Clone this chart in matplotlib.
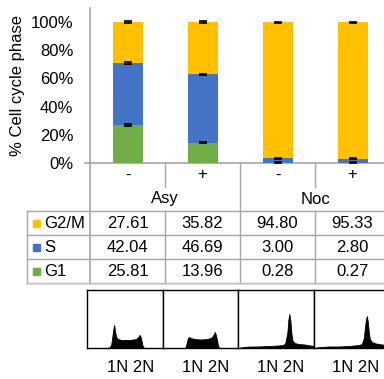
import numpy as np
import matplotlib
matplotlib.use("Agg")
import matplotlib.pyplot as plt
from matplotlib.patches import Rectangle

plt.rcParams["font.family"] = ["Liberation Sans", "DejaVu Sans"]

# ───────── data ─────────
treatments = ["-", "+", "-", "+"]
groups = ["Asy", "Noc"]
phases = ["G2/M", "S", "G1"]          # table order (top to bottom)
g2m = [27.61, 35.82, 94.80, 95.33]
s_phase = [42.04, 46.69, 3.00, 2.80]
g1 = [25.81, 13.96, 0.28, 0.27]
# error bars (% of cell cycle, estimated)
err_g1 = [0.5, 0.4, 0.2, 0.2]
err_s = [0.7, 0.5, 0.3, 0.3]
err_g2m = [0.5, 0.8, 0.3, 0.3]
yticks = [0, 20, 40, 60, 80, 100]
hist_label = "1N 2N"

# DNA-content histogram profiles: (position, height) in panel px
hist_x = [
    [0, 20, 22, 24, 25, 26, 27, 28, 29, 31, 34, 38, 42, 46, 49, 51, 52, 53, 54, 55, 56, 58, 75],
    [0, 22, 23, 24, 25, 26, 28, 32, 38, 44, 48, 50, 52, 53, 54, 55, 56, 58, 75],
    [0, 3, 6, 12, 20, 30, 40, 45, 47, 49, 50, 51, 52, 53, 54, 56, 60, 66, 72, 75],
    [0, 3, 8, 15, 25, 35, 45, 48, 50, 51, 52, 53, 54, 55, 56, 58, 62, 68, 75],
]
hist_y = [
    [0, 0, 0.5, 3, 10, 18, 23, 16, 11, 9, 8, 8, 8, 8.5, 9, 11, 13, 12, 8, 3, 0.5, 0, 0],
    [0, 0, 1, 5, 9, 11, 10, 9, 8.5, 9, 10, 12, 16, 13, 9, 3, 0.5, 0, 0],
    [0, 0.5, 1, 1.5, 1.5, 2, 2.5, 3, 5, 15, 28, 34, 28, 15, 8, 5, 4, 3.5, 2.5, 2],
    [0, 0.5, 1, 1.5, 1.5, 2, 3, 4, 10, 20, 28, 32, 26, 15, 9, 6, 4.5, 3.5, 3],
]

colors = {"G2/M": "#FFC000", "S": "#4472C4", "G1": "#70AD47"}
GRID = "#a6a6a6"

# ───────── layout (pixels) ─────────
W, H = 384, 379
AX_L, AX_R, AX_T, AX_B = 90, 384, 8, 163
CAT = 75
ROWS = [211, 235, 259, 283]
TAB_L = 27
HIST_T, HIST_B, HIST_L = 290, 348, 87

fig = plt.figure(figsize=(W / 100, H / 100), dpi=100)

# overlay in pixel coordinates for table / separators
ov = fig.add_axes([0, 0, 1, 1])
ov.set_xlim(0, W)
ov.set_ylim(H, 0)
ov.axis("off")

ax = fig.add_axes([AX_L / W, (H - AX_B) / H, (AX_R - AX_L) / W, (AX_B - AX_T) / H])
ax.patch.set_alpha(0)

x = np.arange(len(treatments))
tot = np.array(g1) + np.array(s_phase) + np.array(g2m)
p_g1 = np.array(g1) / tot * 100
p_s = np.array(s_phase) / tot * 100
p_g2 = np.array(g2m) / tot * 100

bw = 0.4
ax.bar(x, p_g1, bw, color=colors["G1"], zorder=2)
ax.bar(x, p_s, bw, bottom=p_g1, color=colors["S"], zorder=2)
ax.bar(x, p_g2, bw, bottom=p_g1 + p_s, color=colors["G2/M"], zorder=2)
ekw = dict(fmt="none", ecolor="black", elinewidth=1.0, capsize=2.8, capthick=1.2, zorder=3)
ax.errorbar(x, p_g1, yerr=err_g1, **ekw)
ax.errorbar(x, p_g1 + p_s, yerr=err_s, **ekw)
ax.errorbar(x, p_g1 + p_s + p_g2, yerr=err_g2m, **ekw)

ax.set_xlim(-0.5, -0.5 + (AX_R - AX_L) / CAT)
ax.set_ylim(0, 110)
ax.set_yticks(yticks)
ax.set_yticklabels([f"{v}%" for v in yticks], fontsize=12)
ax.tick_params(axis="y", length=0, pad=12)
ax.set_xticks([])
for sp in ax.spines.values():
    sp.set_visible(False)
ax.set_ylabel("% Cell cycle phase", fontsize=12, labelpad=4)

# axis lines
ov.plot([85, W], [AX_B, AX_B], color=GRID, lw=1.2)
ov.plot([AX_L, AX_L], [AX_T, ROWS[-1]], color=GRID, lw=1.2)

# category labels and separators
centers = [AX_L + CAT / 2 + i * CAT for i in range(len(treatments))]
for c, t in zip(centers, treatments):
    ov.text(c, 175, t, ha="center", va="center", fontsize=12)
for i, g in enumerate(groups):
    ov.text(AX_L + CAT + i * 2 * CAT, 199, g, ha="center", va="center", fontsize=12)
for k in range(1, 5):
    xs = AX_L + k * CAT
    if k % 2 == 0:
        ov.plot([xs, xs], [AX_B, ROWS[-1]], color=GRID, lw=1.0)
    else:
        ov.plot([xs, xs], [AX_B, 187], color=GRID, lw=1.0)
        ov.plot([xs, xs], [ROWS[0], ROWS[-1]], color=GRID, lw=1.0)

# table
for yy in ROWS:
    ov.plot([TAB_L, W], [yy, yy], color=GRID, lw=1.0)
ov.plot([TAB_L, TAB_L], [ROWS[0], ROWS[-1]], color=GRID, lw=1.0)
ov.plot([TAB_L, W], [ROWS[-1] + 1, ROWS[-1] + 1], color="#d0d0d0", lw=1.2)
table_vals = {"G2/M": g2m, "S": s_phase, "G1": g1}
for r, ph in enumerate(phases):
    ym = (ROWS[r] + ROWS[r + 1]) / 2
    ov.add_patch(Rectangle((33, ym - 3.5), 7, 7, color=colors[ph]))
    ov.text(44, ym, ph, ha="left", va="center", fontsize=12)
    for c, v in zip(centers, table_vals[ph]):
        ov.text(c, ym, f"{v:.2f}", ha="center", va="center", fontsize=12)

# histograms
for i in range(len(treatments)):
    hx = fig.add_axes([(HIST_L + i * 75.5) / W, (H - HIST_B) / H, 75.5 / W, (HIST_B - HIST_T) / H])
    hx.fill_between(hist_x[i], hist_y[i], 0, color="black", lw=0.6, edgecolor="black")
    hx.set_xlim(0, 75)
    hx.set_ylim(0, HIST_B - HIST_T)
    hx.set_xticks([])
    hx.set_yticks([])
    for sp in hx.spines.values():
        sp.set_linewidth(1.0)
    ov.text(centers[i] + 3, 368, hist_label, ha="center", va="center", fontsize=12)

fig.savefig("out.png", dpi=100)
